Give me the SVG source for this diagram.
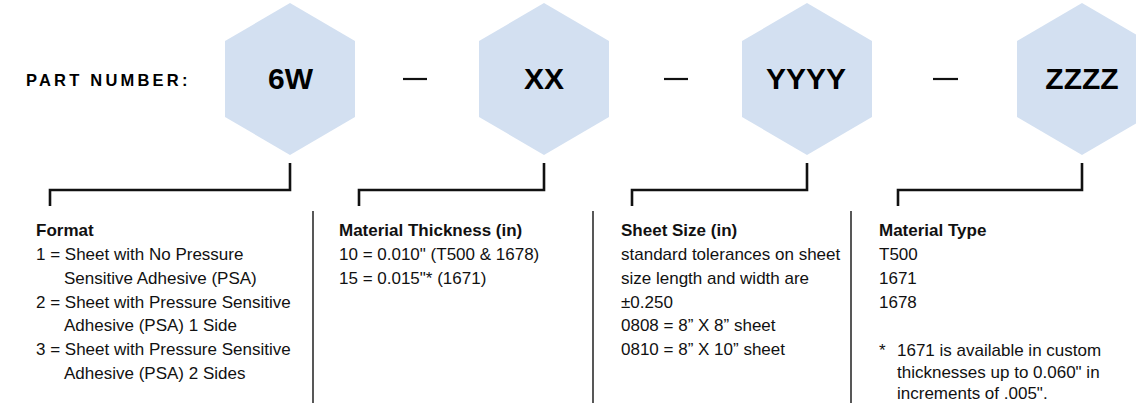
<svg xmlns="http://www.w3.org/2000/svg" width="1136" height="403" viewBox="0 0 1136 403">
<style>
.hex{fill:#d3e0f1}
.code{font-family:"Liberation Sans",Arial,sans-serif;font-weight:bold;font-size:30px;fill:#000;text-anchor:middle}
.lbl{font-family:"Liberation Sans",Arial,sans-serif;font-weight:bold;font-size:16.5px;letter-spacing:3.2px;fill:#000}
.t{font-family:"Liberation Sans",Arial,sans-serif;font-size:17px;fill:#111}
.b{font-weight:bold}
.br{fill:none;stroke:#111;stroke-width:2.6}
.sep{stroke:#111;stroke-width:1.4}
.dash{stroke:#111;stroke-width:2.2}
</style>
<text class="lbl" x="26" y="86">PART NUMBER:</text>
<g id="node-6w">
<polygon class="hex" points="290,3 355,41 355,117 290,155 225,117 225,41"/>
<text class="code" x="290.5" y="89">6W</text>
</g>
<g id="node-xx">
<polygon class="hex" points="544,3 609,41 609,117 544,155 479,117 479,41"/>
<text class="code" x="544" y="89">XX</text>
</g>
<g id="node-yyyy">
<polygon class="hex" points="807,3 872,41 872,117 807,155 742,117 742,41"/>
<text class="code" x="806" y="89">YYYY</text>
</g>
<g id="node-zzzz">
<polygon class="hex" points="1082,3 1147,41 1147,117 1082,155 1017,117 1017,41"/>
<text class="code" x="1082" y="89">ZZZZ</text>
</g>
<g id="dashes">
<line class="dash" x1="403" y1="79" x2="427" y2="79"/>
<line class="dash" x1="664" y1="79" x2="688" y2="79"/>
<line class="dash" x1="933" y1="79" x2="958" y2="79"/>
</g>
<g id="connectors">
<polyline class="br" points="290,163 290,190 50,190 50,206"/>
<polyline class="br" points="544,163 544,190 359,190 359,206"/>
<polyline class="br" points="807,163 807,190 632,190 632,206"/>
<polyline class="br" points="1082,163 1082,190 898,190 898,206"/>
</g>
<g id="separators">
<line class="sep" x1="313" y1="211" x2="313" y2="403"/>
<line class="sep" x1="593" y1="211" x2="593" y2="403"/>
<line class="sep" x1="851" y1="211" x2="851" y2="403"/>
</g>
<g id="col-format">
<text class="t b" x="36" y="236">Format</text>
<text class="t" x="36" y="260">1 = Sheet with No Pressure</text>
<text class="t" x="64" y="283.5">Sensitive Adhesive (PSA)</text>
<text class="t" x="36" y="307.5">2 = Sheet with Pressure Sensitive</text>
<text class="t" x="64" y="331">Adhesive (PSA) 1 Side</text>
<text class="t" x="36" y="355">3 = Sheet with Pressure Sensitive</text>
<text class="t" x="64" y="379">Adhesive (PSA) 2 Sides</text>
</g>
<g id="col-thickness">
<text class="t b" x="339" y="236">Material Thickness (in)</text>
<text class="t" x="339" y="260">10 = 0.010" (T500 &amp; 1678)</text>
<text class="t" x="339" y="283.5">15 = 0.015"* (1671)</text>
</g>
<g id="col-size">
<text class="t b" x="621" y="236">Sheet Size (in)</text>
<text class="t" x="621" y="260">standard tolerances on sheet</text>
<text class="t" x="621" y="283.5">size length and width are</text>
<text class="t" x="621" y="307.5">±0.250</text>
<text class="t" x="621" y="331">0808 = 8” X 8” sheet</text>
<text class="t" x="621" y="355">0810 = 8” X 10” sheet</text>
</g>
<g id="col-type">
<text class="t b" x="879" y="236">Material Type</text>
<text class="t" x="879" y="260">T500</text>
<text class="t" x="879" y="283.5">1671</text>
<text class="t" x="879" y="307.5">1678</text>
<text class="t" x="879" y="356">*</text>
<text class="t" x="897" y="356">1671 is available in custom</text>
<text class="t" x="897" y="378">thicknesses up to 0.060" in</text>
<text class="t" x="897" y="399">increments of .005".</text>
</g>
</svg>
